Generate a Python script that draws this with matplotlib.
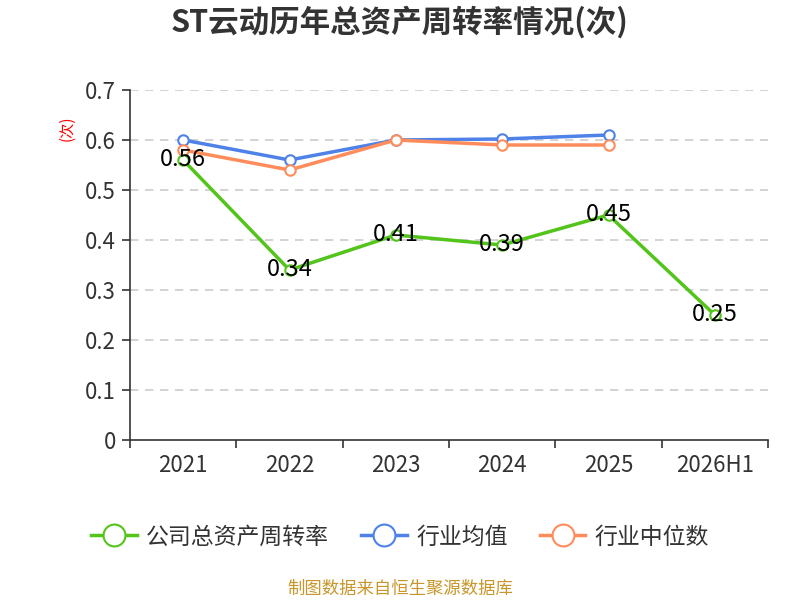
import numpy as np
import matplotlib.pyplot as plt

plt.rcParams['font.family'] = ['Noto Sans CJK SC', 'DejaVu Sans']

# 数据
years = ['2021', '2022', '2023', '2024', '2025', '2026H1']
company = [0.56, 0.34, 0.41, 0.39, 0.45, 0.25]
ind_mean = [0.60, 0.56, 0.60, 0.602, 0.61]
ind_median = [0.58, 0.54, 0.60, 0.59, 0.59]
yticks = [0, 0.1, 0.2, 0.3, 0.4, 0.5, 0.6, 0.7]

green = '#52c41a'
blue = '#4e82e8'
orange = '#ff8c5a'

fig = plt.figure(figsize=(8, 6), dpi=100)
ax = fig.add_axes([0.1625, 0.2667, 0.7975, 0.5833])

x = np.arange(len(years))
xm = np.arange(len(ind_mean))

ax.plot(xm, ind_mean, color=blue, lw=2.5, marker='o', ms=7.5,
        mfc='white', mec=blue, mew=1.5, label='行业均值', zorder=3)
ax.plot(xm, ind_median, color=orange, lw=2.5, marker='o', ms=7.5,
        mfc='white', mec=orange, mew=1.5, label='行业中位数', zorder=3)
ax.plot(x, company, color=green, lw=2.5, marker='o', ms=7.5,
        mfc='white', mec=green, mew=1.5, label='公司总资产周转率', zorder=4)

for xi, v in zip(x, company):
    ax.annotate(f'{v:.2f}', (xi, v), xytext=(0, 0.5), textcoords='offset points',
                ha='center', va='center', fontsize=17, color='black', zorder=5)

ax.set_xlim(-0.5, len(years) - 0.5)
ax.set_ylim(0, 0.7)
ax.set_yticks(yticks)
ax.set_yticklabels(['0' if t == 0 else f'{t:.1f}' for t in yticks])
for t in yticks[1:]:
    ax.axhline(t, color='#cccccc', lw=1.2, ls=(0, (5, 4)), zorder=1)

ax.set_xticks(x)
ax.set_xticklabels(years)
ax.set_xticks(np.arange(len(years) + 1) - 0.5, minor=True)
ax.tick_params(axis='x', which='major', length=0, pad=10, labelsize=16, labelcolor='#333333')
ax.tick_params(axis='x', which='minor', length=6, width=1.2, color='#333333')
ax.tick_params(axis='y', length=6, width=1.2, color='#333333', labelsize=16,
               labelcolor='#333333', pad=4)

for s in ['top', 'right']:
    ax.spines[s].set_visible(False)
ax.spines['left'].set_color('#333333')
ax.spines['bottom'].set_color('#333333')
ax.spines['left'].set_linewidth(1.2)
ax.spines['bottom'].set_linewidth(1.2)

ax.set_ylabel('(次)', color='red', fontsize=11, rotation=90)
ax.yaxis.set_label_coords(-0.085, 0.89)

fig.text(0.5, 0.962, 'ST云动历年总资产周转率情况(次)', ha='center', va='center',
         fontsize=22, fontweight='bold', color='#333333')

handles, labels = ax.get_legend_handles_labels()
order = [2, 0, 1]
fig.legend([handles[i] for i in order], [labels[i] for i in order],
           loc='center', bbox_to_anchor=(0.5, 0.105), ncol=3, frameon=False,
           fontsize=16.5, handlelength=2.0, handletextpad=0.4, columnspacing=1.4,
           markerscale=2.1, labelcolor='#333333')

fig.text(0.5, 0.018, '制图数据来自恒生聚源数据库', ha='center', va='center',
         fontsize=12.5, color='#c8962a')

fig.savefig('out.png', dpi=100)
